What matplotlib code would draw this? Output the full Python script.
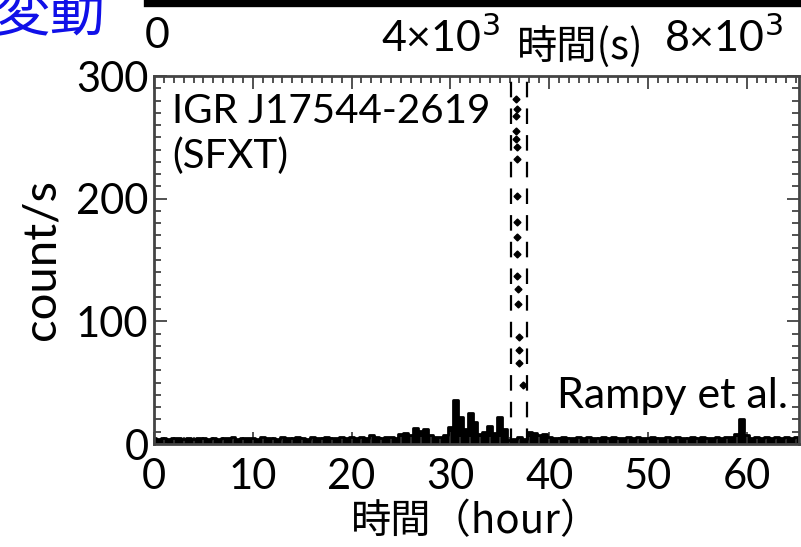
import numpy as np
import matplotlib.pyplot as plt
from matplotlib.ticker import MultipleLocator

plt.rcParams['font.family'] = ['Lato', 'Noto Sans CJK JP', 'DejaVu Sans']
JP = ['Noto Sans CJK JP', 'DejaVu Sans']

# light curve, 0.5 h bins starting at 0 h
counts = [
    5, 4, 5, 4, 5, 5, 4, 5, 4, 5, 5, 4, 5, 4, 5, 5, 6, 4, 5, 5,      # 0-10 h
    5, 4, 6, 5, 5, 4, 6, 5, 5, 6, 5, 4, 6, 5, 5, 6, 5, 5, 6, 5,      # 10-20 h
    6, 5, 6, 5, 7, 6, 5, 6, 6, 5,                                    # 20-25 h
    8, 9, 7, 13, 11, 12, 7, 6, 6, 7,                                 # 25-30 h
    14, 36, 22, 12, 25, 18, 8, 10, 15, 9, 22, 12,                    # 30-36 h
    3, 4, 6, 4,                                                      # 36-38 h
    10, 9, 7, 8,                                                     # 38-40 h
    6, 5, 5, 6, 5, 5, 6, 5, 6, 5, 5, 6, 5, 6, 5, 5, 6, 5, 6, 5,      # 40-50 h
    5, 6, 5, 5, 6, 5, 6, 5, 5, 6, 5, 6, 5, 5, 6, 5, 6, 6,            # 50-59 h
    8, 20,                                                           # 59-60 h
    7, 5, 6, 5, 6, 5, 6, 5, 6, 5, 6, 5,                              # 60-66 h
]
hours = np.arange(len(counts)) * 0.5

# flare points
flare_t = [36.6, 36.7, 36.6, 36.6, 36.6, 36.7, 36.8, 36.8, 36.8, 36.8,
           36.8, 36.8, 36.9, 36.9, 37.0, 37.0, 37.0, 37.4]
flare_c = [281, 273, 267, 255, 249, 242, 232, 202, 181, 169,
           155, 137, 126, 114, 87, 77, 66, 48]
flare_window = [36.1, 37.8]

fig = plt.figure(figsize=(8.01, 5.47), dpi=100)
ax = fig.add_axes([154 / 801, 1 - 444 / 547, 645 / 801, 368 / 547])

ax.fill_between(hours, 0, counts, step='mid', color='black', lw=0)
ax.step(hours, counts, where='mid', color='black', lw=2)
ax.plot(flare_t, flare_c, 'D', color='black', ms=3.5)
for x in flare_window:
    ax.axvline(x, color='black', lw=1.6, ls=(0, (7, 5)))

ax.set_xlim(0, 65.3)
ax.set_ylim(0, 300)
ax.xaxis.set_major_locator(MultipleLocator(10))
ax.xaxis.set_minor_locator(MultipleLocator(1))
ax.yaxis.set_major_locator(MultipleLocator(100))
ax.yaxis.set_minor_locator(MultipleLocator(10))
ax.tick_params(which='both', direction='in', top=True, right=True,
               color='#333333', width=1.2, labelsize=30, pad=4)
ax.tick_params(axis='x', pad=10)
ax.tick_params(which='major', length=9)
ax.tick_params(which='minor', length=5)
for s in ax.spines.values():
    s.set_color('#444444')
    s.set_linewidth(2)

ax.set_ylabel('count/s', fontsize=34, labelpad=10)
ax.set_xlabel('時間（hour）', fontsize=29, family=JP, labelpad=4)

ax.text(0.028, 0.955, 'IGR J17544-2619\n(SFXT)', transform=ax.transAxes,
        fontsize=29, va='top', ha='left', linespacing=1.25)
ax.text(0.625, 0.13, 'Rampy et al.', transform=ax.transAxes,
        fontsize=31, va='center', ha='left')

# strip of the upper panel, time in seconds
top = fig.add_axes([148 / 801, 1 - 3 / 547, 653 / 801, 0.001])
top.set_xlim(-127, 9100)
top.set_ylim(0, 1)
top.set_yticks([])
for name in ['top', 'left', 'right']:
    top.spines[name].set_visible(False)
top.spines['bottom'].set_linewidth(6)
top.set_xticks([0, 4000, 8000], ['0', r'4×10$^3$', r'8×10$^3$'])
top.xaxis.set_minor_locator(MultipleLocator(2000))
top.tick_params(which='major', length=0, labelsize=31, pad=10)
top.tick_params(which='minor', direction='inout', length=10, width=2, color='white')
fig.text(580 / 801, 1 - 47 / 547, '時間(s)', fontsize=29, family=JP,
         ha='center', va='center')

fig.text(106 / 801, 1 - 16 / 547, '変動', fontsize=40, family=JP,
         color='#1010e8', ha='right', va='center')

fig.savefig('out.png', dpi=100)
